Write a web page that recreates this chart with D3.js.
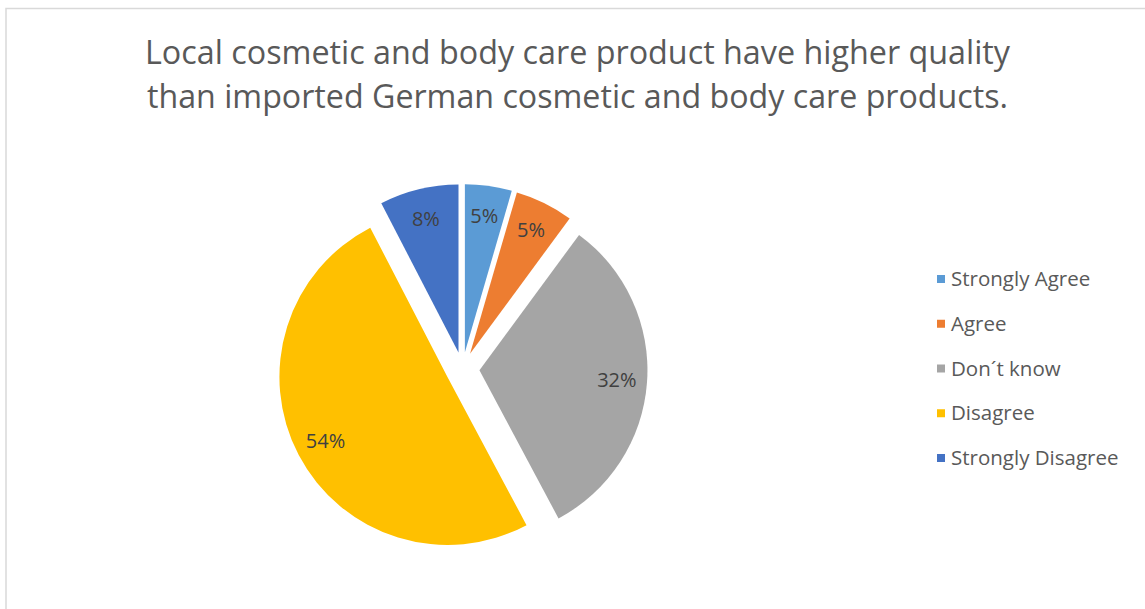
<!DOCTYPE html>
<html>
<head>
<meta charset="utf-8">
<script src="https://cdn.jsdelivr.net/npm/d3@7"></script>
<style>
  html, body { margin: 0; padding: 0; background: #fff; }
  svg { display: block; }
</style>
</head>
<body>
<svg id="chart" width="1145" height="609"></svg>
<script>
// ---- data ----
const categories = ["Strongly Agree", "Agree", "Don\u00b4t know", "Disagree", "Strongly Disagree"];
const shares = [4.5, 5.6, 32.1, 50.2, 7.6];          // slice sizes
const dataLabels = ["5%", "5%", "32%", "54%", "8%"];   // labels as printed
const colors = ["#5B9BD5", "#ED7D31", "#A5A5A5", "#FFC000", "#4472C4"];
const titleLines = [
  "Local cosmetic and body care product have higher quality",
  "than imported German cosmetic and body care products."
];

// ---- layout ----
const W = 1145, H = 609;
const cx = 462.5, cy = 369, R = 168, explode = 17;
const font = "'Open Sans', 'Segoe UI', sans-serif";

const svg = d3.select("#chart");

// chart area border
svg.append("rect")
  .attr("x", 6).attr("y", 8.5)
  .attr("width", W + 20).attr("height", H + 20)
  .attr("fill", "#fff")
  .attr("stroke", "#d9d9d9").attr("stroke-width", 1.5);

// title
const title = svg.append("text")
  .attr("font-family", font)
  .attr("font-size", 32)
  .attr("fill", "#595959")
  .attr("text-anchor", "middle");
const titleBaselines = [64, 108];
const titleWidths = [865, 861];
titleLines.forEach((t, i) => {
  title.append("tspan")
    .attr("x", 577.5).attr("y", titleBaselines[i])
    .attr("textLength", titleWidths[i])
    .attr("lengthAdjust", "spacingAndGlyphs")
    .text(t);
});

// pie
const pie = d3.pie().sort(null).value(d => d)(shares);
const arc = d3.arc().innerRadius(0).outerRadius(R);

const g = svg.append("g").attr("transform", `translate(${cx},${cy})`);

const slices = g.selectAll("g.slice")
  .data(pie)
  .enter().append("g")
  .attr("class", "slice")
  .attr("transform", d => {
    const a = (d.startAngle + d.endAngle) / 2;
    return `translate(${explode * Math.sin(a)},${-explode * Math.cos(a)})`;
  });

slices.append("path")
  .attr("d", arc)
  .attr("fill", (d, i) => colors[i]);

slices.append("text")
  .attr("transform", d => {
    const a = (d.startAngle + d.endAngle) / 2;
    const r = R * 0.82;
    return `translate(${r * Math.sin(a)},${-r * Math.cos(a)})`;
  })
  .attr("text-anchor", "middle")
  .attr("dy", "0.35em")
  .attr("font-family", font)
  .attr("font-size", 20)
  .attr("fill", "#404040")
  .text((d, i) => dataLabels[i]);

// legend
const legendY = d3.scalePoint().domain(categories).range([279, 458]);
const legend = svg.append("g");
const items = legend.selectAll("g")
  .data(categories)
  .enter().append("g")
  .attr("transform", d => `translate(0,${legendY(d)})`);
items.append("rect")
  .attr("x", 937).attr("y", -4)
  .attr("width", 8).attr("height", 8)
  .attr("fill", (d, i) => colors[i]);
items.append("text")
  .attr("x", 951)
  .attr("dy", "0.35em")
  .attr("font-family", font)
  .attr("font-size", 20.5)
  .attr("fill", "#595959")
  .text(d => d);
</script>
</body>
</html>
